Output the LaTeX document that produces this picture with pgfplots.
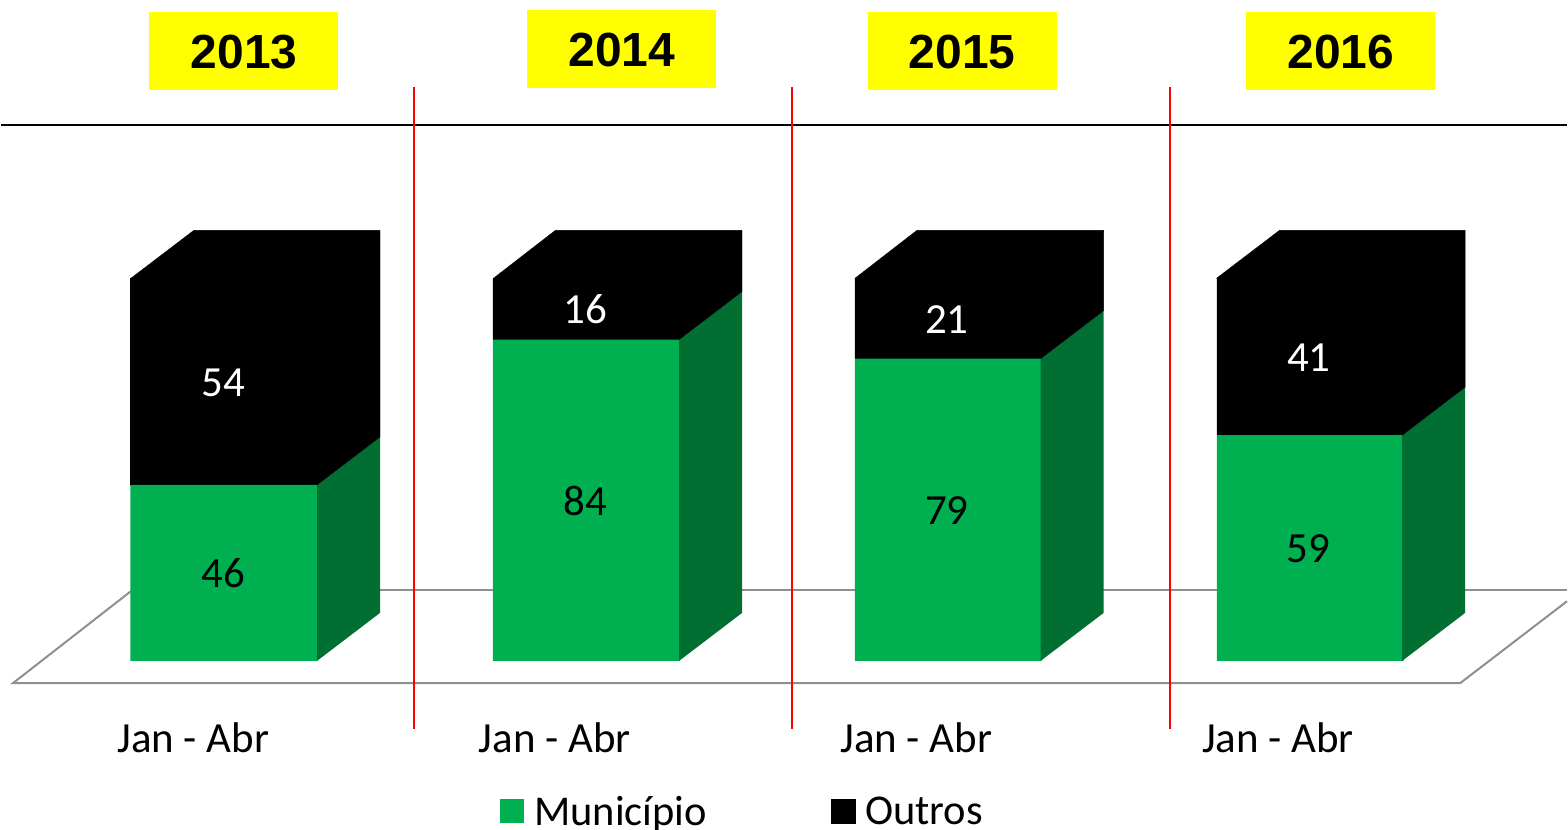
\documentclass[border=0pt]{standalone}
\usepackage{pgfplots}
\pgfplotsset{compat=1.18}
\usepackage{fontspec}
\setmainfont{Carlito}
\newfontfamily\yearfont[Scale=1]{Liberation Sans}
\definecolor{gfront}{HTML}{00B050}
\definecolor{gside}{HTML}{006F31}
\definecolor{floorgray}{HTML}{8F8F8F}
\definecolor{sepred}{HTML}{FF0000}
\definecolor{yearbg}{HTML}{FFFF00}
\pgfplotsset{
  base/.style={
    width=1568pt, height=831pt, scale only axis,
    xmin=0, xmax=1568,
    axis line style={draw=none}, tick style={draw=none},
    clip=false,
  },
}
\begin{document}
\begin{tikzpicture}[x=1pt,y=1pt]
% furniture, in reference pixels
\begin{axis}[base, at={(0pt,0pt)}, anchor=south west, ymin=0, ymax=831, y dir=reverse,
  xtick=\empty, ytick=\empty]
\addplot[draw=floorgray, line width=2pt] coordinates {(130,592) (12,684) (1461,684) (1568,602)};
\addplot[draw=floorgray, line width=2pt] coordinates {(130,590.5) (1568,590.5)};
\addplot[draw=black, line width=2pt] coordinates {(0,125) (1568,125)};
\addplot[draw=sepred, line width=2pt] coordinates {(414,87) (414,730)};
\addplot[draw=sepred, line width=2pt] coordinates {(792,87) (792,730)};
\addplot[draw=sepred, line width=2pt] coordinates {(1170,87) (1170,730)};
\addplot[fill=yearbg, draw=none] coordinates {(148.5,12) (337.5,12) (337.5,90) (148.5,90)} -- cycle;
\addplot[fill=yearbg, draw=none] coordinates {(527,10) (716,10) (716,88) (527,88)} -- cycle;
\addplot[fill=yearbg, draw=none] coordinates {(868,12) (1057,12) (1057,90) (868,90)} -- cycle;
\addplot[fill=yearbg, draw=none] coordinates {(1246.5,12) (1435.5,12) (1435.5,90) (1246.5,90)} -- cycle;
\node[font=\fontsize{48}{48}\selectfont\yearfont\bfseries] at (axis cs:243.5,52) {2013};
\node[font=\fontsize{48}{48}\selectfont\yearfont\bfseries] at (axis cs:621.5,50) {2014};
\node[font=\fontsize{48}{48}\selectfont\yearfont\bfseries] at (axis cs:962.5,52) {2015};
\node[font=\fontsize{48}{48}\selectfont\yearfont\bfseries] at (axis cs:1341.5,52) {2016};
\end{axis}
% front faces of the stacked bars
\begin{axis}[base, at={(0pt,0pt)}, anchor=south west,
  ymin=-44.21, ymax=172.76, ytick=\empty,
  ybar stacked, bar width=187pt,
  xtick={192.5,554.5,916.5,1278.5},
  xticklabels={Jan - Abr,Jan - Abr,Jan - Abr,Jan - Abr},
  xticklabel style={font=\fontsize{43}{43}\selectfont, anchor=center, yshift=92pt},
  legend style={at={(axis cs:500,-39.3)}, anchor=west, draw=none, fill=none,
    legend columns=2, font=\fontsize{42.5}{42.5}\selectfont,
    inner sep=0pt, outer sep=0pt,
    /tikz/every odd column/.append style={column sep=8pt},
    /tikz/every even column/.append style={column sep=122pt}},
  legend cell align=left,
  legend image code/.code={\fill[#1] (0pt,-12pt) rectangle (24pt,12pt);},
]
\addplot[fill=gfront, draw=none] coordinates {(223,46) (586,84) (948.5,79) (1311,59)};
\addlegendentry{Município}
\addplot[fill=black, draw=black, line width=0.3pt] coordinates {(223,54) (586,16) (948.5,21) (1311,41)};
\addlegendentry{Outros}
\end{axis}
% depth faces and value labels
\begin{axis}[base, at={(0pt,0pt)}, anchor=south west,
  ymin=-44.21, ymax=172.76, xtick=\empty, ytick=\empty]
% green side faces
\addplot[fill=gside, draw=none] coordinates {(316.5,0) (379.5,12.53) (379.5,58.53) (316.5,46)} -- cycle;
\addplot[fill=gside, draw=none] coordinates {(679,0) (742,12.53) (742,96.53) (679,84)} -- cycle;
\addplot[fill=gside, draw=none] coordinates {(1041,0) (1104,12.53) (1104,91.53) (1041,79)} -- cycle;
\addplot[fill=gside, draw=none] coordinates {(1403,0) (1466,12.53) (1466,71.53) (1403,59)} -- cycle;
% black side and top faces
\addplot[fill=black, draw=black, line width=0.3pt] coordinates {(316.5,46) (379.5,58.53) (379.5,112.53) (193,112.53) (130,100) (316.5,100)} -- cycle;
\addplot[fill=black, draw=black, line width=0.3pt] coordinates {(679,84) (742,96.53) (742,112.53) (555,112.53) (493,100) (679,100)} -- cycle;
\addplot[fill=black, draw=black, line width=0.3pt] coordinates {(1041,79) (1104,91.53) (1104,112.53) (917,112.53) (855,100) (1041,100)} -- cycle;
\addplot[fill=black, draw=black, line width=0.3pt] coordinates {(1403,59) (1466,71.53) (1466,112.53) (1280,112.53) (1217,100) (1403,100)} -- cycle;
% labels
\addplot[draw=none, mark=none, nodes near coords, point meta=explicit symbolic,
  nodes near coords style={anchor=center, text=black, font=\fontsize{43}{43}\selectfont}]
  table[meta=v] {
x y v
223 22.9 46
585 41.7 84
947 39.2 79
1309 29.2 59
};
\addplot[draw=none, mark=none, nodes near coords, point meta=explicit symbolic,
  nodes near coords style={anchor=center, text=white, font=\fontsize{43}{43}\selectfont}]
  table[meta=v] {
x y v
223 72.7 54
585 91.9 16
947 89.2 21
1309.5 79.2 41
};
\end{axis}
\useasboundingbox (0,0) rectangle (1568pt,831pt);
\end{tikzpicture}
\end{document}
